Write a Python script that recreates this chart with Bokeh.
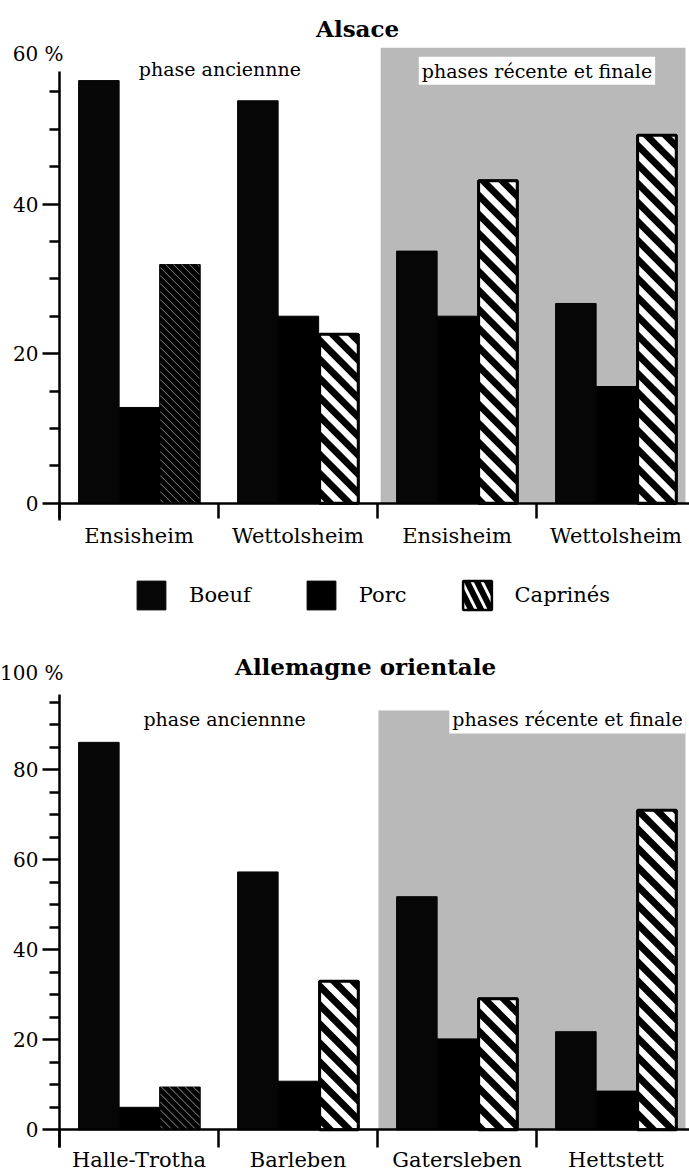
import math
from bokeh.plotting import figure
from bokeh.models import (ColumnDataSource, FixedTicker, Label, Legend, LegendItem,
                          Range1d, BoxAnnotation)
from bokeh.layouts import column
from bokeh.embed import file_html
from bokeh.resources import INLINE

FONT = "DejaVu Serif"

# ---------------- data ----------------
alsace_sites = ["Ensisheim", "Wettolsheim", "Ensisheim", "Wettolsheim"]
alsace_boeuf = [56.5, 53.8, 33.7, 26.7]
alsace_porc = [12.8, 25.0, 25.0, 15.6]
alsace_caprines = [31.9, 22.6, 43.1, 49.2]
alsace_fine = [True, False, False, False]      # Caprinés bar drawn with the fine dark texture

germany_sites = ["Halle-Trotha", "Barleben", "Gatersleben", "Hettstett"]
germany_boeuf = [86.1, 57.3, 51.8, 21.8]
germany_porc = [5.0, 10.8, 20.2, 8.6]
germany_caprines = [9.5, 33.0, 29.1, 71.0]
germany_fine = [True, False, False, False]

species = ["Boeuf", "Porc", "Caprinés"]
alsace_ticks = [0, 20, 40]
germany_ticks = [0, 20, 40, 60, 80]

# ---------------- geometry ----------------
W = 689
GROUP_PX = 159.0          # pixels per site group
AXIS_PX = 59.0            # x pixel of the y axis
X_START = -AXIS_PX / GROUP_PX
X_END = (W - AXIS_PX) / GROUP_PX
BAR_W = 0.255
CAP_W = BAR_W - 0.012
OFFSET = 0.12


def bar_x(i, k):
    return i + OFFSET + BAR_W / 2 + k * BAR_W


def _clip(poly, keep):
    out = []
    n = len(poly)
    for j in range(n):
        a, b = poly[j], poly[(j + 1) % n]
        fa, fb = keep(a), keep(b)
        if fa >= 0:
            out.append(a)
        if (fa >= 0) != (fb >= 0):
            t = fa / (fa - fb)
            out.append((a[0] + t * (b[0] - a[0]), a[1] + t * (b[1] - a[1])))
    return out


def stripe_bands(xc, top, width, px_per_unit, period, band):
    """45 degree '\\' bands clipped to the bar, computed in pixel space."""
    X0 = (xc - width / 2) * GROUP_PX
    X1 = (xc + width / 2) * GROUP_PX
    T = top * px_per_unit
    rect = [(X0, 0.0), (X1, 0.0), (X1, T), (X0, T)]
    xs, ys = [], []
    c = math.floor((X0 - band) / period) * period
    while c <= X1 + T:
        poly = _clip(rect, lambda p, c=c: p[0] + p[1] - c)
        poly = _clip(poly, lambda p, c=c: c + band - p[0] - p[1])
        if len(poly) >= 3:
            xs.append([q[0] / GROUP_PX for q in poly])
            ys.append([q[1] / px_per_unit for q in poly])
        c += period
    return xs, ys


def make_chart(title, sites, fine, boeuf, porc, caprines, ticks, axis_bounds,
               top_label, top_label_y, height, zero_px, px_per_unit,
               gray_left, gray_top, title_x, title_y, anc_x, anc_y, rec_x, rec_y,
               tick_len, label_standoff):
    y_top = zero_px / px_per_unit
    y_bot = -(height - zero_px) / px_per_unit
    p = figure(width=W, height=height,
               x_range=Range1d(X_START, X_END), y_range=Range1d(y_bot, y_top),
               output_backend="svg", toolbar_location=None, min_border=0)
    p.outline_line_color = None
    p.xgrid.visible = False
    p.ygrid.visible = False

    p.add_layout(BoxAnnotation(left=gray_left, right=3.937, bottom=0, top=gray_top,
                               fill_color="#b9b9b9", fill_alpha=1.0,
                               line_color=None, level="underlay"))

    n = len(sites)
    src_b = ColumnDataSource(dict(x=[bar_x(i, 0) for i in range(n)], top=boeuf))
    src_p = ColumnDataSource(dict(x=[bar_x(i, 1) for i in range(n)], top=porc))
    fi = [i for i in range(n) if fine[i]]
    st = [i for i in range(n) if not fine[i]]
    src_cf = ColumnDataSource(dict(x=[bar_x(i, 2) for i in fi], top=[caprines[i] for i in fi]))
    src_cs = ColumnDataSource(dict(x=[bar_x(i, 2) for i in st], top=[caprines[i] for i in st]))

    rb = p.vbar(x="x", top="top", width=BAR_W, bottom=0, source=src_b,
                fill_color="#060606", line_color="#060606")
    rp = p.vbar(x="x", top="top", width=BAR_W, bottom=0, source=src_p,
                fill_color="black", line_color="black")

    # Caprinés with the fine dark texture
    p.vbar(x="x", top="top", width=BAR_W, bottom=0, source=src_cf,
           fill_color="black", line_color="black", line_width=1)
    fx, fy = [], []
    for i in fi:
        a, b = stripe_bands(bar_x(i, 2), caprines[i], BAR_W - 0.01, px_per_unit, 8.0, 1.2)
        fx += a
        fy += b
    p.patches(xs=fx, ys=fy, fill_color="#7a7a7a", line_color=None)

    # Caprinés with bold stripes: hatched renderer (gives the legend swatch) ...
    rc = p.vbar(x="x", top="top", width=CAP_W, bottom=0, source=src_cs,
                fill_color="white", line_color="black", line_width=2.5,
                hatch_pattern="\\", hatch_color="black", hatch_scale=20, hatch_weight=6)
    # ... covered by bold 45 degree white / black stripes
    p.vbar(x="x", top="top", width=CAP_W, bottom=0, source=src_cs,
           fill_color="white", line_color=None)
    sx, sy = [], []
    for i in st:
        a, b = stripe_bands(bar_x(i, 2), caprines[i], CAP_W, px_per_unit, 19.0, 9.8)
        sx += a
        sy += b
    p.patches(xs=sx, ys=sy, fill_color="black", line_color=None)
    p.vbar(x="x", top="top", width=CAP_W, bottom=0, source=src_cs,
           fill_color=None, line_color="black", line_width=3)

    # y axis, drawn at x = 0 inside the frame
    ya = p.yaxis[0]
    ya.fixed_location = 0
    top_v = int(axis_bounds[1])
    minors = [v for v in range(5, top_v + 1, 5) if v not in ticks]
    ya.ticker = FixedTicker(ticks=ticks, minor_ticks=minors)
    ya.bounds = axis_bounds
    ya.axis_line_width = 2.5
    ya.major_tick_line_width = 2.5
    ya.minor_tick_line_width = 2.5
    ya.major_tick_out = 17
    ya.major_tick_in = 0
    ya.minor_tick_out = 10
    ya.minor_tick_in = 0
    ya.major_label_standoff = 4
    ya.major_label_text_font = FONT
    ya.major_label_text_font_size = "20px"
    ya.major_label_text_color = "black"

    # x axis, drawn at y = 0 inside the frame
    xa = p.xaxis[0]
    xa.fixed_location = 0
    xa.bounds = (0, X_END)
    centers = [i + 0.5 for i in range(n)]
    xa.ticker = FixedTicker(ticks=centers, minor_ticks=list(range(n)))
    xa.major_label_overrides = {c: s for c, s in zip(centers, sites)}
    xa.axis_line_width = 2.5
    xa.major_tick_out = 0
    xa.major_tick_in = 0
    xa.minor_tick_out = tick_len
    xa.minor_tick_in = 0
    xa.minor_tick_line_width = 2.5
    xa.major_label_standoff = label_standoff
    xa.major_label_text_font = FONT
    xa.major_label_text_font_size = "21px"
    xa.major_label_text_color = "black"

    p.add_layout(Label(x=0.025, y=top_label_y, text=top_label, text_align="right",
                       text_baseline="middle", text_font=FONT, text_font_size="20px",
                       text_color="black"))
    p.add_layout(Label(x=title_x, y=title_y, text=title, text_align="center",
                       text_baseline="middle", text_font=FONT, text_font_size="23px",
                       text_font_style="bold", text_color="black"))
    p.add_layout(Label(x=anc_x, y=anc_y, text="phase anciennne", text_align="center",
                       text_baseline="middle", text_font=FONT, text_font_size="19px",
                       text_color="black"))
    p.add_layout(Label(x=rec_x, y=rec_y, text="phases récente et finale", text_align="center",
                       text_baseline="middle", text_font=FONT, text_font_size="19px",
                       text_color="black", background_fill_color="white", padding=3))
    return p, rb, rp, rc


p1, rb, rp, rc = make_chart(
    "Alsace", alsace_sites, alsace_fine, alsace_boeuf, alsace_porc, alsace_caprines,
    alsace_ticks, (-2.3, 57.7), "60 %", 60.1, 620, 502.7, 7.48,
    2.02, 60.9, 1.875, 63.46, 1.009, 58.1, 3.003, 57.8, 15, 6)

legend = Legend(items=[LegendItem(label=species[0], renderers=[rb]),
                       LegendItem(label=species[1], renderers=[rp]),
                       LegendItem(label=species[2], renderers=[rc])],
                orientation="horizontal", location=(133, 7),
                glyph_width=36, glyph_height=36, label_standoff=20, spacing=52,
                label_text_font=FONT, label_text_font_size="21px",
                label_text_color="black",
                border_line_color=None, background_fill_alpha=0,
                padding=0, margin=0)
p1.add_layout(legend)

p2, _, _, _ = make_chart(
    "Allemagne orientale", germany_sites, germany_fine, germany_boeuf, germany_porc,
    germany_caprines, germany_ticks, (-3.9, 96.7), "100 %", 101.6, 552, 509.3, 4.5,
    2.006, 93.2, 1.925, 102.96, 1.038, 91.2, 3.195, 91.2, 18, 0)

layout = column(p1, p2, spacing=0)
open("out.html", "w").write(file_html(layout, INLINE))
